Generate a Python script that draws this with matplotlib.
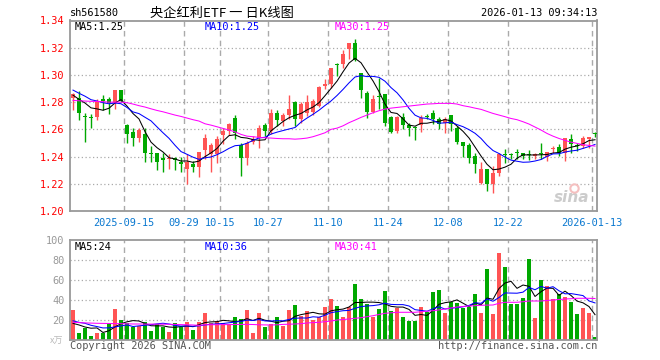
import matplotlib
matplotlib.use('Agg')
import matplotlib.pyplot as plt
import numpy as np
import pandas as pd

# ---- data ----
opens = [1.2832, 1.2832, 1.2697, 1.2690, 1.2693, 1.2820, 1.2820, 1.2791, 1.2886, 1.2629,
         1.2578, 1.2533, 1.2563, 1.2425, 1.2423, 1.2389, 1.2379, 1.2389, 1.2362, 1.2305,
         1.2345, 1.2323, 1.2448, 1.2416, 1.2416, 1.2555, 1.2587, 1.2685, 1.2482, 1.2386,
         1.2506, 1.2538, 1.2629, 1.2587, 1.2722, 1.2661, 1.2703, 1.2800, 1.2673, 1.2722,
         1.2727, 1.2771, 1.2918, 1.2935, 1.3075, 1.3077, 1.3188, 1.3232, 1.3011, 1.2869,
         1.2730, 1.2848, 1.2857, 1.2690, 1.2587, 1.2693, 1.2629, 1.2612, 1.2629, 1.2695,
         1.2717, 1.2673, 1.2649, 1.2703, 1.2612, 1.2506, 1.2482, 1.2403, 1.2207, 1.2310,
         1.2202, 1.2281, 1.2416, 1.2413, 1.2425, 1.2423, 1.2410, 1.2403, 1.2418, 1.2399,
         1.2455, 1.2472, 1.2428, 1.2531, 1.2479, 1.2477, 1.2531, 1.2572]
highs = [1.2869, 1.2881, 1.2722, 1.2710, 1.2820, 1.2850, 1.2835, 1.2886, 1.2886, 1.2637,
         1.2612, 1.2607, 1.2607, 1.2477, 1.2423, 1.2423, 1.2416, 1.2396, 1.2396, 1.2416,
         1.2367, 1.2430, 1.2563, 1.2501, 1.2550, 1.2610, 1.2648, 1.2703, 1.2501, 1.2514,
         1.2550, 1.2629, 1.2644, 1.2751, 1.2739, 1.2717, 1.2850, 1.2808, 1.2800, 1.2850,
         1.2825, 1.2918, 1.2972, 1.3053, 1.3090, 1.3183, 1.3237, 1.3261, 1.3016, 1.2881,
         1.2850, 1.2980, 1.2860, 1.2698, 1.2698, 1.2722, 1.2649, 1.2624, 1.2703, 1.2710,
         1.2742, 1.2693, 1.2693, 1.2703, 1.2624, 1.2506, 1.2501, 1.2428, 1.2359, 1.2310,
         1.2330, 1.2423, 1.2457, 1.2428, 1.2452, 1.2423, 1.2448, 1.2423, 1.2501, 1.2433,
         1.2477, 1.2489, 1.2538, 1.2563, 1.2500, 1.2550, 1.2546, 1.2580]
lows = [1.2739, 1.2668, 1.2506, 1.2607, 1.2668, 1.2742, 1.2715, 1.2747, 1.2800, 1.2501,
        1.2477, 1.2506, 1.2359, 1.2359, 1.2300, 1.2286, 1.2310, 1.2300, 1.2286, 1.2202,
        1.2286, 1.2251, 1.2379, 1.2286, 1.2354, 1.2490, 1.2555, 1.2526, 1.2256, 1.2335,
        1.2489, 1.2465, 1.2550, 1.2563, 1.2624, 1.2624, 1.2678, 1.2624, 1.2649, 1.2698,
        1.2703, 1.2766, 1.2899, 1.2906, 1.2992, 1.3053, 1.3114, 1.3102, 1.2832, 1.2685,
        1.2722, 1.2747, 1.2624, 1.2575, 1.2570, 1.2600, 1.2550, 1.2521, 1.2580, 1.2673,
        1.2636, 1.2600, 1.2575, 1.2587, 1.2489, 1.2399, 1.2354, 1.2281, 1.2195, 1.2146,
        1.2134, 1.2256, 1.2354, 1.2379, 1.2379, 1.2379, 1.2374, 1.2379, 1.2379, 1.2367,
        1.2428, 1.2403, 1.2367, 1.2428, 1.2440, 1.2465, 1.2465, 1.2546]
closes = [1.2857, 1.2717, 1.2693, 1.2683, 1.2803, 1.2806, 1.2791, 1.2886, 1.2808, 1.2563,
          1.2533, 1.2592, 1.2423, 1.2420, 1.2359, 1.2374, 1.2384, 1.2374, 1.2345, 1.2362,
          1.2323, 1.2430, 1.2538, 1.2482, 1.2526, 1.2587, 1.2636, 1.2570, 1.2386, 1.2501,
          1.2531, 1.2612, 1.2587, 1.2717, 1.2668, 1.2703, 1.2751, 1.2678, 1.2783, 1.2800,
          1.2808, 1.2911, 1.2935, 1.3048, 1.3070, 1.3151, 1.3232, 1.3109, 1.2886, 1.2727,
          1.2825, 1.2840, 1.2649, 1.2580, 1.2690, 1.2629, 1.2609, 1.2609, 1.2685, 1.2693,
          1.2673, 1.2636, 1.2673, 1.2636, 1.2506, 1.2477, 1.2391, 1.2342, 1.2305, 1.2202,
          1.2276, 1.2416, 1.2413, 1.2411, 1.2423, 1.2403, 1.2408, 1.2416, 1.2416, 1.2433,
          1.2457, 1.2428, 1.2538, 1.2489, 1.2477, 1.2538, 1.2546, 1.2568]
# closes of the 9 sessions before the window (for MA5 / MA10 warm-up)
prev_closes = [1.295, 1.291, 1.294, 1.290, 1.293, 1.287, 1.283, 1.286, 1.284]
ma30 = [1.2813, 1.2810, 1.2808, 1.2806, 1.2805, 1.2803, 1.2800, 1.2800, 1.2800, 1.2796,
        1.2786, 1.2774, 1.2764, 1.2751, 1.2739, 1.2729, 1.2717, 1.2705, 1.2695, 1.2683,
        1.2671, 1.2661, 1.2641, 1.2631, 1.2619, 1.2607, 1.2595, 1.2582, 1.2563, 1.2550,
        1.2546, 1.2541, 1.2538, 1.2536, 1.2533, 1.2531, 1.2531, 1.2528, 1.2531, 1.2536,
        1.2546, 1.2560, 1.2575, 1.2600, 1.2609, 1.2626, 1.2649, 1.2668, 1.2688, 1.2705,
        1.2722, 1.2737, 1.2749, 1.2756, 1.2761, 1.2766, 1.2771, 1.2776, 1.2781, 1.2786,
        1.2788, 1.2791, 1.2791, 1.2791, 1.2786, 1.2774, 1.2766, 1.2756, 1.2747, 1.2732,
        1.2717, 1.2705, 1.2693, 1.2680, 1.2671, 1.2656, 1.2639, 1.2617, 1.2595, 1.2570,
        1.2550, 1.2533, 1.2519, 1.2506, 1.2497, 1.2487, 1.2482, 1.2477]

volumes = [30, 7.3, 11.7, 4, 7.3, 7.3, 16, 31, 20, 16.7,
           13.3, 14, 18.3, 9, 16, 13.3, 8.3, 16.7, 13.3, 18.3,
           10, 18.3, 27.3, 16.7, 19.3, 16.7, 15.7, 23.3, 21, 30,
           7.3, 27.3, 13.3, 15.7, 23.3, 14.3, 30, 35, 24.3, 29,
           20, 22.7, 33.3, 41, 34.3, 23.3, 33, 56, 41, 36,
           23.3, 31, 49, 29, 32.3, 23.3, 19.3, 19.3, 33.3, 27.7,
           48.3, 50, 27.3, 37.7, 37.3, 31.7, 33.3, 46, 27.3, 71.3,
           25.7, 87.3, 73.3, 36, 36, 42.3, 81, 22.3, 60, 54,
           41, 46, 43.3, 38.3, 26, 32.3, 27.3, 2.7]
prev_volumes = [23, 21, 24, 20, 21, 15, 22, 10, 6]
vol_ma30 = [17.7, 17.4, 17.1, 16.9, 16.7, 16.6, 16.5, 16.4, 16.3, 16.2,
            16.0, 16.0, 15.9, 15.9, 15.8, 15.8, 15.7, 15.6, 15.4, 15.2,
            15.0, 14.6, 15.2, 15.3, 15.3, 15.4, 15.4, 15.5, 15.6, 15.6,
            15.5, 15.2, 15.1, 15.0, 15.2, 15.6, 15.8, 16.0, 16.4, 17.0,
            17.4, 17.7, 18.3, 19.0, 20.0, 20.5, 21.0, 21.7, 22.3, 23.3,
            24.3, 25.5, 26.7, 27.2, 27.7, 27.7, 27.7, 27.7, 28.3, 28.8,
            29.3, 30.1, 31.0, 32.0, 33.0, 33.5, 34.0, 34.3, 34.7, 34.9,
            35.0, 36.7, 37.7, 37.7, 37.7, 38.3, 39.0, 39.0, 39.0, 39.5,
            40.0, 40.5, 41.0, 41.3, 41.7, 41.7, 41.7, 41.5]

date_idx = [9, 19, 25, 33, 43, 53, 63, 73, 87]
date_labels = ['2025-09-15', '09-29', '10-15', '10-27', '11-10',
               '11-24', '12-08', '12-22', '2026-01-13']
price_ticks = [1.20, 1.22, 1.24, 1.26, 1.28, 1.30, 1.32, 1.34]
vol_ticks = [20, 40, 60, 80, 100]

RED = '#ff5454'
GREEN = '#00a800'
GRID = '#aaaaaa'
MONO = 'DejaVu Sans Mono'
W, H = 660, 360


def px(x, y):
    return x / W, 1 - y / H


o = np.array(opens); c = np.array(closes)
hi = np.array(highs); lo = np.array(lows)
n = len(c)
x = np.arange(n)
up = c >= o
cols = np.where(up, RED, GREEN)

cs = pd.Series(prev_closes + closes)
ma5 = cs.rolling(5).mean().values[len(prev_closes):]
ma10 = cs.rolling(10).mean().values[len(prev_closes):]
vs = pd.Series(prev_volumes + volumes)
vma5 = vs.rolling(5).mean().values[len(prev_volumes):]
vma10 = vs.rolling(10).mean().values[len(prev_volumes):]

fig = plt.figure(figsize=(6.6, 3.6), dpi=100)
fig.patch.set_facecolor('white')
ax = fig.add_axes([70 / W, 1 - 211 / H, 527 / W, 190.5 / H])
axv = fig.add_axes([70 / W, 1 - 340 / H, 527 / W, 100 / H])

xmin, xmax = -0.5, 87.33
for a in (ax, axv):
    a.set_xlim(xmin, xmax)
    for s in a.spines.values():
        s.set_color('#999999')
        s.set_linewidth(1.3)
    a.tick_params(length=0)
    for t in date_idx:
        a.axvline(t - 0.5, color=GRID, lw=1, ls=(0, (4, 3)), zorder=0)

# ---- price panel ----
ax.set_ylim(1.20, 1.34)
for p in price_ticks[1:-1]:
    ax.axhline(p, color=GRID, lw=0.9, ls=(0, (1, 2)), zorder=0)
ax.vlines(x, lo, hi, colors=cols, lw=1, zorder=2)
body = np.maximum(np.abs(c - o), 0.0008)
ax.bar(x, body, bottom=np.minimum(o, c), width=0.8, color=cols, lw=0, zorder=3)
ax.plot(x, ma5, color='black', lw=0.75, zorder=4)
ax.plot(x, ma10, color='#0000ff', lw=0.75, zorder=4)
ax.plot(x, ma30, color='#ff00ff', lw=0.75, zorder=4)
ax.set_yticks(price_ticks)
ax.set_yticklabels(['%.2f' % p for p in price_ticks], color='#ff0000',
                   fontsize=7.4, family=MONO)
ax.set_xticks([t - 0.5 for t in date_idx])
ax.set_xticklabels(date_labels, color='#0a78d0', fontsize=7.4, family=MONO)
ax.tick_params(axis='y', pad=4)
ax.tick_params(axis='x', pad=5)

# sina watermark
ax.text(0.985, 0.07, 'sina', transform=ax.transAxes, ha='right', va='center',
        fontsize=11, fontweight='bold', style='italic', color='#cccccc', zorder=1)
ax.plot([0.957], [0.12], transform=ax.transAxes, marker='o', ms=6, mfc='none',
        mec='#f5c0c0', mew=1.5, zorder=1)

# ---- volume panel ----
axv.set_ylim(0, 100)
for v in vol_ticks[:-1]:
    axv.axhline(v, color=GRID, lw=0.9, ls=(0, (1, 2)), zorder=0)
axv.bar(x, volumes, width=0.8, color=cols, lw=0, zorder=2)
axv.plot(x, vma5, color='black', lw=0.75, zorder=4)
axv.plot(x, vma10, color='#0000ff', lw=0.75, zorder=4)
axv.plot(x, vol_ma30, color='#ff00ff', lw=0.75, zorder=4)
axv.set_yticks(vol_ticks)
axv.set_yticklabels([str(v) for v in vol_ticks], color='#999999',
                    fontsize=7.4, family=MONO)
axv.set_xticks([t - 0.5 for t in date_idx])
axv.set_xticklabels([])
axv.tick_params(axis='y', pad=4)

# ---- header / legends / footer ----
fs = 7.4
fig.text(*px(70, 13), 'sh561580', fontsize=fs, family=MONO, ha='left', va='center')
fig.text(*px(222, 13), '央企红利ETF 一 日K线图', fontsize=9.5,
         family=['Noto Sans CJK SC', 'DejaVu Sans'], ha='center', va='center')
fig.text(*px(597, 13), '2026-01-13 09:34:13', fontsize=fs, family=MONO,
         ha='right', va='center')

fig.text(*px(75, 26.5), 'MA5:1.25', fontsize=fs, family=MONO, va='center', color='black')
fig.text(*px(205, 26.5), 'MA10:1.25', fontsize=fs, family=MONO, va='center', color='#0000ff')
fig.text(*px(335, 26.5), 'MA30:1.25', fontsize=fs, family=MONO, va='center', color='#ff00ff')

fig.text(*px(75, 247), 'MA5:24', fontsize=fs, family=MONO, va='center', color='black')
fig.text(*px(205, 247), 'MA10:36', fontsize=fs, family=MONO, va='center', color='#0000ff')
fig.text(*px(335, 247), 'MA30:41', fontsize=fs, family=MONO, va='center', color='#ff00ff')

fig.text(*px(57, 341), 'x万', fontsize=6.5, family=['Noto Sans CJK SC', 'DejaVu Sans'],
         ha='center', va='center', color='#bbbbbb')
fig.text(*px(70, 346), 'Copyright 2026 SINA.COM', fontsize=fs, family=MONO,
         ha='left', va='center', color='#555555')
fig.text(*px(597, 346), 'http://finance.sina.com.cn', fontsize=fs, family=MONO,
         ha='right', va='center', color='#555555')

fig.savefig('out.png', dpi=100, facecolor='white')
